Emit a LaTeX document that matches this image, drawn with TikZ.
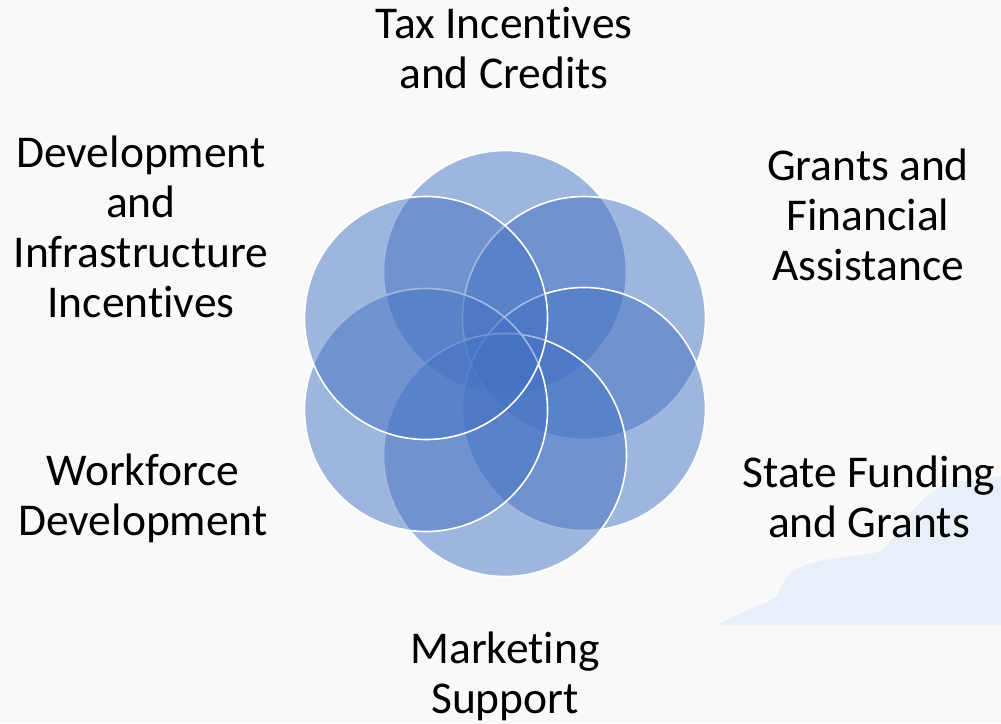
\documentclass[tikz,border=0pt]{standalone}
\usepackage{fontspec}
\setmainfont{Carlito}[Ligatures=NoCommon]
\usetikzlibrary{positioning}
\definecolor{petalblue}{RGB}{68,114,196}
\definecolor{bggray}{RGB}{249,249,249}
\definecolor{cloudblue}{RGB}{233,239,248}
\tikzset{
    petal/.style = {circle, minimum size=243pt, inner sep=0pt, draw=white, line width=1.6pt, fill=petalblue, fill opacity=0.5, draw opacity=1},
    lbl/.style = {align=center, inner sep=0pt, font=\fontsize{45.5}{50}\selectfont, text=black, anchor=base},
}

\begin{document}
\begin{tikzpicture}[x=1pt,y=-1pt]
\path[use as bounding box] (0,0) rectangle (1001,723);
% background
\fill[bggray] (0,0) rectangle (1001,723);
\fill[cloudblue] (717,625) .. controls (740,612) and (765,604) .. (777,597)
  .. controls (781,585) and (788,572) .. (800,567)
  .. controls (820,558) and (860,556) .. (875,553)
  .. controls (888,548) and (893,538) .. (902,525)
  .. controls (915,505) and (935,485) .. (955,482)
  -- (1001,476) -- (1001,625) -- cycle;

% circles, clockwise from the top
\node[petal] at (505,272) (c1) {};
\node[petal] at (584,318) (c2) {};
\node[petal] at (584,409) (c3) {};
\node[petal] at (505,455) (c4) {};
\node[petal] at (426,410) (c5) {};
\node[petal] at (426,318) (c6) {};

% labels (anchored at the baseline of the last line)
\node[lbl] at (504,88) (tax) {Tax Incentives\\and Credits};
\node[lbl] at (868,280) (grants) {Grants and\\Financial\\Assistance};
\node[lbl] at (869,537) (state) {State Funding\\and Grants};
\node[lbl] at (505,713) (marketing) {Marketing\\Support};
\node[lbl] at (143,535) (workforce) {Workforce\\Development};
\node[lbl] at (141,317) (devel) {Development\\and\\Infrastructure\\Incentives};

\end{tikzpicture}
\end{document}
